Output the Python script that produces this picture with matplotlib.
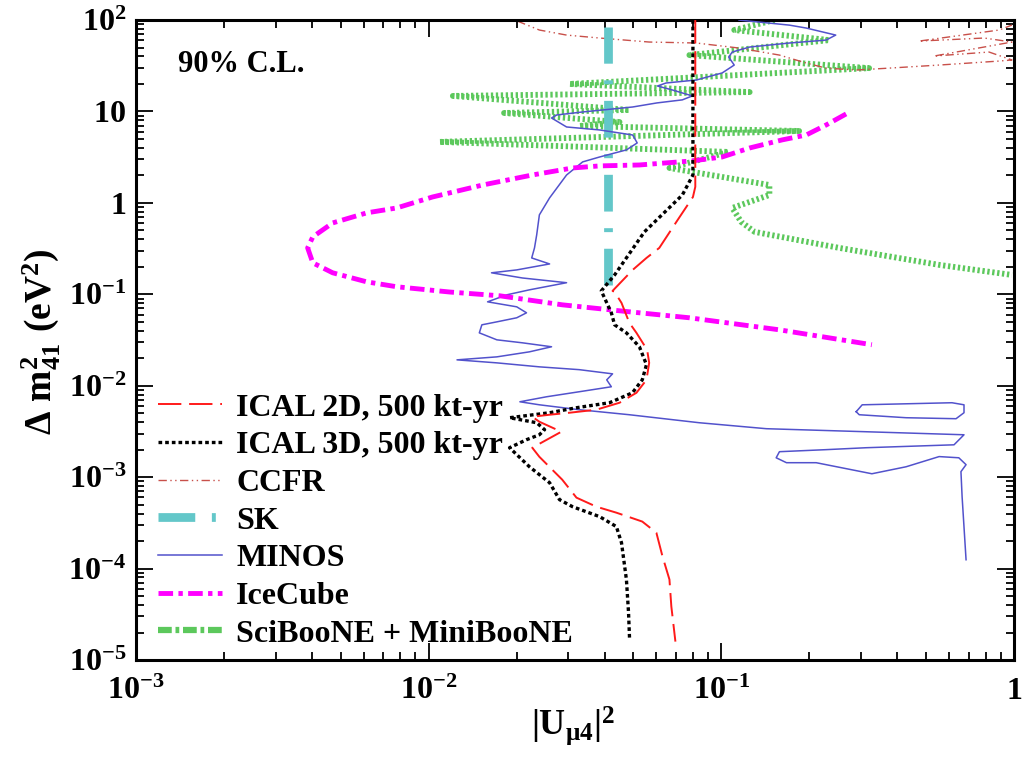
import numpy as np
import matplotlib
matplotlib.use("Agg")
import matplotlib.pyplot as plt
from matplotlib.lines import Line2D
from matplotlib.ticker import FixedLocator, FixedFormatter, LogLocator, NullFormatter

plt.rcParams['mathtext.fontset'] = 'custom'
plt.rcParams['mathtext.rm'] = 'Liberation Serif:bold'
plt.rcParams['mathtext.bf'] = 'Liberation Serif:bold'
plt.rcParams['mathtext.it'] = 'Liberation Serif:bold'
plt.rcParams['mathtext.default'] = 'rm'
plt.rcParams['font.family'] = ['Liberation Serif', 'DejaVu Serif']
plt.rcParams['font.weight'] = 'bold'

# ---------------- data (|U_mu4|^2 , Delta m^2_41 in eV^2) ----------------
ical2d_x = [0.0815, 0.0815, 0.080, 0.0702, 0.0614, 0.0555, 0.0498, 0.0425, 0.0432, 0.0456,
            0.0485, 0.0513, 0.0558, 0.0567, 0.0555, 0.0513, 0.0449, 0.0374, 0.0303, 0.0259,
            0.0226, 0.0239, 0.0284, 0.0226, 0.0239, 0.0286, 0.0320, 0.0374, 0.0438, 0.0537,
            0.0600, 0.0630, 0.0665, 0.0675, 0.0697]
ical2d_y = [100, 1.50, 1.16, 0.619, 0.322, 0.25, 0.185, 0.109, 0.106, 0.0807,
            0.0489, 0.0379, 0.0247, 0.0178, 0.0116, 0.00838, 0.00652, 0.00547, 0.00507, 0.00482,
            0.00458, 0.00404, 0.00314, 0.0021, 0.00167, 0.00094, 0.000597, 0.000476, 0.000409, 0.000327,
            0.000247, 0.000135, 7.6e-5, 3.85e-5, 1.59e-5]

ical3d_x = [0.080, 0.080, 0.0736, 0.0546, 0.0432, 0.0389, 0.0421, 0.0432, 0.0474, 0.0525,
            0.0555, 0.0537, 0.0497, 0.0415, 0.0320, 0.0259, 0.0189, 0.0234, 0.0249, 0.0239,
            0.0216, 0.0189, 0.0221, 0.0259, 0.0280, 0.0310, 0.0384, 0.0438, 0.0456, 0.0474,
            0.0482, 0.0486]
ical3d_y = [100, 2.02, 1.22, 0.482, 0.163, 0.109, 0.0628, 0.0464, 0.0379, 0.0267,
            0.0170, 0.0116, 0.00838, 0.00652, 0.00575, 0.00507, 0.00447, 0.00394, 0.00331, 0.00291,
            0.00257, 0.0021, 0.0013, 0.00087, 0.000568, 0.000476, 0.00037, 0.000288, 0.000192, 7.6e-5,
            3.3e-5, 1.67e-5]

ccfr_x = [0.0201, 0.0239, 0.0296, 0.0384, 0.0567, 0.0822, 0.115, 0.158, 0.195, 0.228,
          0.289, 0.374, 0.555, 0.889, 0.984, 0.822, 0.533, 0.984, 0.791, 0.474, 0.889, 0.984]
ccfr_y = [97.5, 77.8, 68.5, 63.6, 57.5, 56.1, 49.4, 41.4, 33.9, 29.8,
          28.4, 29.8, 32.2, 35.6, 36.6, 44.7, 40.4, 57.5, 63.6, 58.9, 77.8, 88.1]

sk_x = [0.041, 0.041]
sk_y = [0.125, 85]

minos_x = [0.115, 0.171, 0.195, 0.246, 0.228, 0.171, 0.125, 0.109, 0.106, 0.1107,
           0.1007, 0.0822, 0.0648, 0.0605, 0.068, 0.0796, 0.0736, 0.0602, 0.0498, 0.0336,
           0.0274, 0.0263, 0.0296, 0.0384, 0.0498, 0.0516, 0.0474, 0.0384, 0.0336, 0.0296,
           0.0259, 0.0239, 0.0234, 0.0230, 0.0225, 0.0259, 0.0200, 0.0164, 0.0209, 0.0296,
           0.0221, 0.0185, 0.0159, 0.0200, 0.0216, 0.0200, 0.0171, 0.0152, 0.0149, 0.0171,
           0.0209, 0.0263, 0.0221, 0.0171, 0.0125, 0.0171, 0.0239, 0.0327, 0.0425, 0.0406,
           0.0421, 0.0327, 0.0253, 0.0205, 0.0239, 0.0327, 0.0485, 0.0841, 0.1426, 0.313,
           0.675, 0.624, 0.313, 0.228, 0.158, 0.154, 0.167, 0.211, 0.327, 0.428,
           0.555, 0.648, 0.686, 0.659, 0.665, 0.686]
minos_y = [100, 88, 81.8, 68.5, 60.4, 56.1, 50.7, 44.7, 39.4, 32.2,
           26.4, 22.1, 20.5, 19.0, 17.2, 14.8, 13.4, 12.4, 11.2, 9.88,
           9.16, 8.49, 6.77, 6.28, 5.53, 4.53, 3.80, 3.18, 2.81, 2.02,
           1.135, 0.740, 0.447, 0.322, 0.250, 0.215, 0.185, 0.172, 0.151, 0.134,
           0.112, 0.0988, 0.0828, 0.0730, 0.0628, 0.0554, 0.0500, 0.0464, 0.0379, 0.0318,
           0.0295, 0.0267, 0.0235, 0.0207, 0.0192, 0.0178, 0.0161, 0.0150, 0.0135, 0.0116,
           0.00975, 0.00860, 0.00758, 0.00668, 0.00619, 0.00547, 0.00482, 0.00394, 0.00339, 0.00314,
           0.00291, 0.00226, 0.00210, 0.00200, 0.00190, 0.00163, 0.00144, 0.00144, 0.00109, 0.00130,
           0.00168, 0.00163, 0.00137, 0.00115, 0.000612, 0.000125]

minos_island_x = [0.289, 0.303, 0.614, 0.675, 0.675, 0.634, 0.428, 0.296, 0.289]
minos_island_y = [0.00520, 0.00619, 0.00652, 0.00619, 0.00507, 0.00436, 0.00447, 0.00482, 0.00520]

icecube_x = [0.267, 0.228, 0.195, 0.161, 0.125, 0.1007, 0.0796, 0.0648, 0.0525, 0.0384,
             0.0310, 0.0226, 0.0153, 0.0103, 0.00778, 0.00614, 0.00470, 0.00402, 0.00386, 0.00402,
             0.00470, 0.00614, 0.00778, 0.0118, 0.0175, 0.0286, 0.0485, 0.0778, 0.158, 0.327]
icecube_y = [9.40, 7.11, 5.53, 4.88, 3.99, 3.18, 2.88, 2.74, 2.60, 2.54,
             2.41, 2.02, 1.57, 1.16, 0.881, 0.778, 0.604, 0.425, 0.322, 0.221,
             0.172, 0.137, 0.121, 0.106, 0.0964, 0.0768, 0.0644, 0.0554, 0.0409, 0.0281]

sbmb_x = [0.152, 0.1107, 0.234, 0.0778, 0.320, 0.0303, 0.125, 0.0121, 0.0485, 0.0181,
          0.0449, 0.0327, 0.1845, 0.0109, 0.106, 0.0665, 0.146, 0.146, 0.109, 0.117,
          0.130, 0.253, 0.555, 0.984]
sbmb_y = [100, 77.8, 60.4, 41.4, 29.8, 20.0, 16.3, 14.8, 10.4, 9.63,
          7.67, 6.94, 6.12, 4.65, 3.61, 2.41, 1.57, 1.22, 0.881, 0.619,
          0.482, 0.322, 0.210, 0.163]

labels = ['ICAL 2D, 500 kt-yr', 'ICAL 3D, 500 kt-yr', 'CCFR', 'SK', 'MINOS',
          'IceCube', 'SciBooNE + MiniBooNE']

x_ticks = [1e-3, 1e-2, 1e-1, 1]
x_ticklabels = [r'$10^{-3}$', r'$10^{-2}$', r'$10^{-1}$', r'$1$']
y_ticks = [1e-5, 1e-4, 1e-3, 1e-2, 1e-1, 1, 10, 100]
y_ticklabels = [r'$10^{-5}$', r'$10^{-4}$', r'$10^{-3}$', r'$10^{-2}$', r'$10^{-1}$',
                r'$1$', r'$10$', r'$10^{2}$']

# ---------------- figure ----------------
fig = plt.figure(figsize=(10.27, 7.57), dpi=100)
ax = fig.add_axes([0.1324, 0.1281, 0.8549, 0.8454])
ax.set_xscale('log')
ax.set_yscale('log')
ax.set_xlim(1e-3, 1)
ax.set_ylim(1e-5, 1e2)

c_green = '#5cc85c'
c_ccfr = '#c8504a'
c_sk = '#63c7c9'
c_minos = '#5252cc'

ln_sb, = ax.plot(sbmb_x, sbmb_y, color=c_green, lw=4.2, dashes=(0.4, 0.45), zorder=1)
ln_ccfr, = ax.plot(ccfr_x, ccfr_y, color=c_ccfr, lw=1.0, dashes=(6, 2.5, 1, 2.5, 1, 2.5), zorder=2)
ln_sk, = ax.plot(sk_x, sk_y, color=c_sk, lw=6.3, dashes=(4.2, 1.9, 0.45, 1.9), zorder=2)
ln_minos, = ax.plot(minos_x, minos_y, color=c_minos, lw=1.1, zorder=3)
ax.plot(minos_island_x, minos_island_y, color=c_minos, lw=1.1, zorder=3)
ln_ice, = ax.plot(icecube_x, icecube_y, color='#ff00ff', lw=3.5, dashes=(3, 1.1, 0.9, 1.1), zorder=4)
ln_3d, = ax.plot(ical3d_x, ical3d_y, color='black', lw=2.4, dashes=(1.1, 0.9), zorder=5)
ln_2d, = ax.plot(ical2d_x, ical2d_y, color='#ff1a1a', lw=1.4, dashes=(12, 4), zorder=5)

# ticks
ax.xaxis.set_major_locator(FixedLocator(x_ticks))
ax.xaxis.set_major_formatter(FixedFormatter(x_ticklabels))
ax.yaxis.set_major_locator(FixedLocator(y_ticks))
ax.yaxis.set_major_formatter(FixedFormatter(y_ticklabels))
ax.xaxis.set_minor_locator(LogLocator(base=10, subs=np.arange(2, 10), numticks=20))
ax.yaxis.set_minor_locator(LogLocator(base=10, subs=np.arange(2, 10), numticks=20))
ax.xaxis.set_minor_formatter(NullFormatter())
ax.yaxis.set_minor_formatter(NullFormatter())
ax.tick_params(which='both', direction='in', top=True, right=True, width=1.3, colors='black')
ax.tick_params(which='major', length=12)
ax.tick_params(which='minor', length=6)
ax.tick_params(axis='x', which='major', labelsize=23, pad=12)
ax.tick_params(axis='y', which='major', labelsize=23, pad=7)
for s in ax.spines.values():
    s.set_linewidth(2.2)

ax.text(0.048, 0.93, '90% C.L.', transform=ax.transAxes, fontsize=22, fontweight='bold',
        family='Liberation Serif', va='center', ha='left')

fig.text(0.040, 0.548, r'$\Delta\ m^2_{41}\ (eV^2)$', rotation=90, fontsize=27,
         ha='center', va='center')
fig.text(0.558, 0.042, r'$|U_{\mu 4}|^2$', fontsize=26, ha='center', va='center')

sb_proxy = Line2D([], [], color=c_green, lw=4.5, dashes=(2.2, 0.6, 0.6, 0.6))
handles = [ln_2d, ln_3d, ln_ccfr, ln_sk, ln_minos, ln_ice, sb_proxy]
leg = ax.legend(handles, labels, loc='lower left', bbox_to_anchor=(0.025, 0.018),
                frameon=False, prop={'family': 'Liberation Serif', 'weight': 'bold', 'size': 23},
                handlelength=2.0, handletextpad=0.45, labelspacing=0.26,
                borderpad=0, borderaxespad=0)

fig.savefig('out.png', dpi=100)
